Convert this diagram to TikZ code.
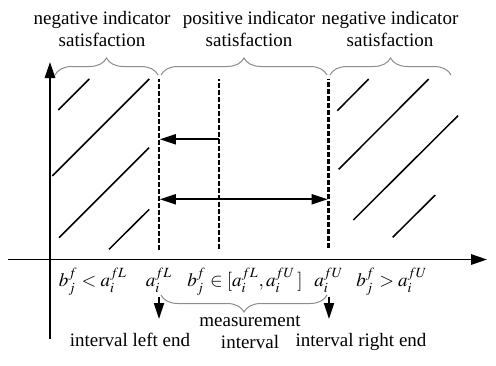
\documentclass[tikz,border=0pt]{standalone}
\usepackage{mathptmx}
\usepackage{fontspec}
\setmainfont{Liberation Serif}
\usepackage{tikz}
\usetikzlibrary{positioning,arrows.meta,decorations.pathreplacing}
\definecolor{cllave}{HTML}{8C8C8C}
\tikzset{
  eje/.style={line width=0.9pt, -{Triangle[length=8pt,width=5.2pt]}},
  flecha/.style={line width=0.9pt, -{Triangle[length=8pt,width=5pt]}},
  flechad/.style={line width=0.9pt, {Triangle[length=8pt,width=5pt]}-{Triangle[length=8pt,width=5pt]}},
  rayado/.style={line width=0.75pt},
  guiones/.style={line width=1.4pt, dash pattern=on 2.4pt off 1.1pt},
  llave/.style={draw=cllave, line width=0.5pt, decorate, decoration={brace, amplitude=8.5pt}},
  etq/.style={font=\fontsize{9.5}{11}\selectfont, align=center, inner sep=0pt},
}
\begin{document}
\begin{tikzpicture}[x=0.5pt, y=0.5pt]
  \useasboundingbox (0,0) rectangle (496,365);
  % ejes
  \coordinate (yb) at (50,26);
  \coordinate (yt) at (50,303);
  \coordinate (xb) at (8,105.5);
  \coordinate (xt) at (487,105.5);
  \draw[eje] (yb) -- (yt);
  \draw[eje] (xb) -- (xt);
  % limites del intervalo
  \coordinate (Lb) at (159,115);   \coordinate (Lt) at (159,286);
  \coordinate (Mb) at (219,116);   \coordinate (Mt) at (219,286);
  \coordinate (Ub) at (328.5,117); \coordinate (Ut) at (328.5,286);
  \draw[guiones] (Lb) -- (Lt);
  \draw[guiones] (Mb) -- (Mt);
  \draw[guiones] (Ub) -- (Ut);
  \coordinate (m1) at (219,225.7);
  \coordinate (l1) at (159.8,225.7);
  \coordinate (l2) at (159.8,165.7);
  \coordinate (u2) at (327.7,165.7);
  \draw[flecha] (m1) -- (l1);
  \draw[flechad] (l2) -- (u2);
  % rayado izquierdo
  \draw[rayado] (58.3,255) -- (89.3,286);
  \draw[rayado] (52.3,189) -- (149.3,286);
  \draw[rayado] (59,127.3) -- (149,217.3);
  \draw[rayado] (109,115.7) -- (149.3,155.7);
  % rayado derecho
  \draw[rayado] (337.3,254.3) -- (368.7,286);
  \draw[rayado] (338.7,195.7) -- (428.7,286);
  \draw[rayado] (353.3,145) -- (458,249.3);
  \draw[rayado] (392.7,127.7) -- (435.3,170);
  % llaves superiores
  \draw[llave] (55,290) -- (158,290);
  \draw[llave] (161,290) -- (327,290);
  \draw[llave] (330,290) -- (451,290);
  \node[etq] (neg1) at (102,335.5) {negative indicator\\satisfaction};
  \node[etq] (pos) at (249,335.5) {positive indicator\\satisfaction};
  \node[etq] (neg2) at (390,335.5) {negative indicator\\satisfaction};
  % etiquetas del eje
  \node[etq, anchor=base] (bL) at (93,78.5) {$b_j^f<a_i^{fL}$};
  \node[etq, anchor=base] (aL) at (159,78.5) {$a_i^{fL}$};
  \node[etq, anchor=base] (bM) at (245,78.5) {$b_j^f\in[a_i^{fL},a_i^{fU}\,]$};
  \node[etq, anchor=base] (aU) at (329,78.5) {$a_i^{fU}$};
  \node[etq, anchor=base] (bU) at (392,78.5) {$b_j^f>a_i^{fU}$};
  % intervalo de medida
  \draw[llave] (327,70) -- (161,70);
  \coordinate (pL) at (159,46);
  \coordinate (pU) at (329,46);
  \draw[flecha, shorten <=2pt] (aL.south) -- (pL);
  \draw[flecha, shorten <=2pt] (aU.south) -- (pU);
  \node[etq] (med) at (250,32.5) {measurement\\interval};
  \node[etq, anchor=base] (izq) at (130,19) {interval left end};
  \node[etq, anchor=base] (der) at (361,19) {interval right end};
\end{tikzpicture}
\end{document}
